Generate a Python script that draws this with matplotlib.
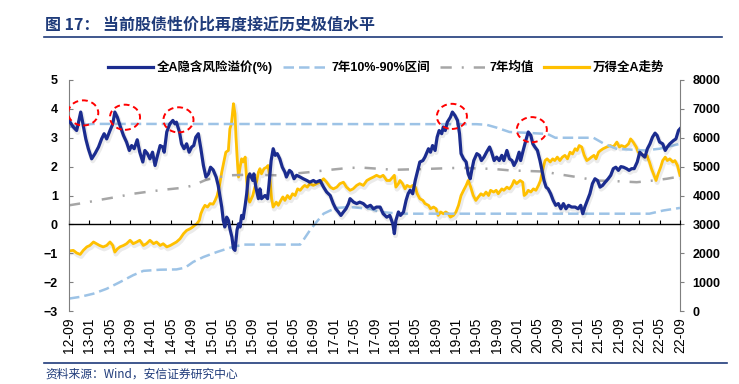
import matplotlib
matplotlib.use("Agg")
import matplotlib.pyplot as plt
import matplotlib.patheffects as pe
from matplotlib.patches import Ellipse
from matplotlib.lines import Line2D
import numpy as np

plt.rcParams['font.family'] = ['Liberation Sans', 'Noto Sans CJK SC', 'DejaVu Sans']

# x = months since 2012-09
tick_labels = ["12-09", "13-01", "13-05", "13-09", "14-01", "14-05", "14-09", "15-01",
               "15-05", "15-09", "16-01", "16-05", "16-09", "17-01", "17-05", "17-09",
               "18-01", "18-05", "18-09", "19-01", "19-05", "19-09", "20-01", "20-05",
               "20-09", "21-01", "21-05", "21-09", "22-01", "22-05", "22-09"]

# 全A隐含风险溢价(%)
erp_m = [0, 0.85, 1.5, 1.8, 2.3, 2.8, 3.3, 3.8, 4.45, 5.1, 5.8, 6.4, 6.9, 7.4, 8.05, 8.6,
         9.0, 9.5, 10.0, 10.7, 11.3, 11.85, 12.3, 12.8, 13.4, 13.9, 14.5, 14.9, 15.4, 15.9,
         16.4, 16.9, 17.3, 17.9, 18.4, 18.7, 19.2, 19.8, 20.4, 20.8, 21.1, 21.7, 22.1, 22.6,
         23.1, 23.6, 24.1, 24.5, 24.9, 25.4, 25.9, 26.4, 26.9, 27.4, 27.8, 28.3, 28.9, 29.3,
         30.0, 30.3, 30.6, 30.97, 31.3, 31.6, 32.0, 32.3, 32.6, 33.0, 33.3, 33.6, 33.9, 34.2,
         34.6, 34.9, 35.2, 35.5, 36.1, 36.3, 36.7, 37.2, 37.5, 37.8, 38.5, 39.0, 39.3, 39.7,
         40.1, 40.5, 40.9, 41.4, 41.9, 42.4, 42.7, 43.3, 43.7, 44.2, 44.7, 45.4, 46.0, 46.7,
         47.3, 48.0, 48.5, 49.3, 50.0, 50.6, 51.3, 51.9, 52.4, 52.9, 53.4, 53.9, 54.4, 54.9,
         55.2, 55.9, 56.5, 57.1, 57.8, 58.5, 59.2, 59.8, 60.4, 61.1, 61.7, 62.4, 63.0, 63.6,
         63.9, 64.2, 64.7, 65.1, 65.7, 66.2, 66.6, 67.0, 67.5, 68.0, 68.4, 68.9, 69.5, 69.9,
         70.6, 71.0, 71.4, 71.9, 72.3, 72.7, 73.2, 73.5, 73.9, 74.3, 74.9, 75.3, 75.8, 76.3,
         76.7, 77.0, 77.5, 78.0, 78.4, 78.8, 79.1, 79.5, 80.1, 80.6, 81.0, 81.5, 82.0, 82.6,
         83.0, 83.5, 84.0, 84.5, 85.0, 85.4, 86.0, 86.5, 87.0, 87.4, 87.9, 88.4, 88.7, 89.2,
         89.8, 90.2, 90.7, 91.1, 91.5, 92.0, 92.5, 92.9, 93.3, 93.7, 94.1, 94.6, 95.1, 95.6,
         96.1, 96.6, 97.1, 97.6, 98.1, 98.7, 99.4, 100.0, 100.5, 100.9, 101.3, 101.8, 102.3,
         102.8, 103.3, 103.8, 104.3, 104.8, 105.3, 105.9, 106.4, 106.9, 107.4, 107.9, 108.4,
         108.9, 109.5, 110.0, 110.5, 111.0, 111.6, 112.1, 112.7, 113.1, 113.6, 114.1, 114.6,
         115.1, 115.5, 116.0, 116.6, 117.1, 117.5, 118.0, 118.7, 119.2, 119.7, 120.0]
erp_v = [3.6, 3.37, 3.25, 3.48, 3.89, 3.43, 2.96, 2.62, 2.27, 2.45, 2.68, 2.96, 3.14, 2.96, 3.25, 3.48,
         3.89, 3.71, 3.43, 3.08, 2.85, 2.56, 2.73, 2.62, 2.93, 2.5, 2.16, 2.56, 2.45, 2.27,
         2.5, 2.04, 2.33, 2.73, 2.68, 2.5, 3.2, 3.48, 3.6, 3.48, 3.54, 3.2, 2.79, 2.62,
         2.79, 2.5, 2.68, 2.73, 3.02, 3.14, 2.62, 2.04, 1.64, 1.75, 1.98, 1.89, 1.64, 1.35,
         0.6, 0.14, -0.09, 0.25, 0.14, -0.15, -0.44, -0.84, -0.9, -0.2, 0.02, -0.09, 0.31, 0.2,
         0.66, 1.06, 1.64, 1.75, 1.52, 1.75, 1.29, 0.89, 1.23, 0.89, 1.0, 0.89, 1.41, 2.21,
         2.62, 2.39, 2.45, 2.27, 1.98, 1.81, 1.64, 1.87, 1.81, 1.58, 1.70, 1.64, 1.58, 1.52,
         1.46, 1.52, 1.46, 1.52, 1.29, 1.12, 1.0, 0.72, 0.54, 0.43, 0.31, 0.43, 0.54, 0.72,
         0.89, 0.77, 0.72, 0.77, 0.72, 0.6, 0.66, 0.54, 0.6, 0.6, 0.37, 0.25, 0.31, 0.02,
         -0.32, 0.14, 0.43, 0.31, 0.43, 0.83, 1.06, 1.18, 1.06, 1.52, 1.81, 2.16, 2.21, 2.33,
         2.62, 2.5, 2.73, 2.56, 3.02, 3.25, 3.14, 3.37, 3.25, 3.54, 3.71, 3.89, 3.77, 3.6,
         3.14, 2.45, 2.27, 2.16, 1.75, 1.58, 1.87, 2.21, 2.45, 2.39, 2.21, 2.33, 2.5, 2.68,
         2.5, 2.21, 2.33, 2.21, 2.39, 2.21, 2.56, 2.27, 2.21, 2.04, 2.21, 2.5, 2.21, 2.56,
         2.96, 3.2, 3.08, 2.79, 2.68, 2.56, 2.21, 1.87, 1.52, 1.29, 1.23, 1.06, 0.83, 0.66,
         0.72, 0.54, 0.72, 0.54, 0.66, 0.6, 0.6, 0.54, 0.66, 0.37, 0.6, 0.83, 1.06,
         1.41, 1.58, 1.52, 1.29, 1.35, 1.46, 1.58, 1.7, 1.93, 1.98, 1.87, 2.0,
         1.98, 1.93, 1.87, 1.93, 1.93, 2.16, 2.5, 2.39, 2.33, 2.62, 2.79, 3.02,
         3.16, 3.08, 2.85, 2.79, 2.56, 2.68, 2.79, 2.9, 2.96, 3.25, 3.31]

# 万得全A走势 (right axis)
wind_m = [0, 0.85, 1.5, 2.2, 2.8, 3.5, 4.1, 4.8, 5.4, 6.0, 6.7, 7.4, 8.05, 8.6, 9.0, 9.5,
          10.0, 10.7, 11.3, 12.0, 12.6, 13.3, 13.9, 14.6, 15.2, 15.9, 16.6, 17.2, 17.9, 18.5,
          19.2, 19.9, 20.5, 21.1, 21.8, 22.5, 23.1, 23.8, 24.3, 24.7, 25.1, 25.6, 25.9, 26.3,
          26.7, 27.2, 27.7, 28.3, 28.7, 29.1, 29.5, 30.0, 30.4, 30.8, 31.3, 31.6, 31.9, 32.3,
          32.6, 32.8, 33.1, 33.3, 33.6, 33.9, 34.2, 34.6, 34.9, 35.2, 35.5, 36.1, 36.5, 36.9,
          37.2, 37.5, 37.8, 38.3, 38.8, 39.1, 39.5, 39.8, 40.1, 40.7, 41.1, 41.6, 42.0, 42.4,
          42.9, 43.4, 43.9, 44.4, 44.9, 45.4, 45.9, 46.3, 46.8, 47.3, 48.0, 48.6, 49.3, 50.0,
          50.6, 51.3, 51.9, 52.6, 53.2, 53.9, 54.5, 55.2, 55.8, 56.5, 57.1, 57.8, 58.5, 59.1,
          59.8, 60.4, 61.1, 61.7, 62.4, 63.0, 63.6, 63.9, 64.2, 64.7, 65.0, 65.5, 66.0, 66.4,
          67.0, 67.5, 68.0, 68.4, 68.9, 69.5, 69.9, 70.6, 71.0, 71.6, 72.1, 72.5, 73.0, 73.5,
          74.0, 74.5, 74.9, 75.5, 76.0, 76.5, 77.0, 77.5, 78.0, 78.4, 78.9, 79.4, 79.9, 80.4,
          80.9, 81.4, 81.9, 82.4, 82.8, 83.4, 83.9, 84.3, 85.0, 85.4, 86.0, 86.5, 87.0, 87.4,
          87.9, 88.6, 89.1, 89.4, 89.8, 90.2, 90.7, 91.2, 91.7, 92.2, 92.6, 93.0, 93.5, 93.9,
          94.5, 95.0, 95.4, 95.9, 96.4, 96.9, 97.4, 97.9, 98.4, 98.9, 99.4, 99.8, 100.2, 100.7,
          101.2, 101.7, 102.2, 102.6, 103.1, 103.5, 104.0, 104.4, 104.9, 105.6, 106.3, 106.9,
          107.6, 108.1, 108.5, 109.2, 109.9, 110.3, 110.8, 111.4, 111.8, 112.5, 113.0, 113.5,
          114.0, 114.4, 114.9, 115.3, 115.7, 116.2, 116.6, 117.1, 117.5, 118.0, 118.6, 119.0,
          119.5, 120.0]
wind_v = [2080, 2100, 2010, 1960, 2100, 2220, 2270, 2390, 2330, 2270, 2220, 2270, 2390, 2270, 2040, 2150,
          2220, 2270, 2330, 2450, 2330, 2390, 2450, 2270, 2330, 2450, 2330, 2390, 2270, 2330,
          2220, 2270, 2330, 2390, 2500, 2680, 2790, 2850, 2910, 2970, 3020, 3140, 3370, 3540,
          3660, 3600, 3720, 3700, 3830, 4000, 4290, 4810, 5160, 5500, 5560, 6310, 6480, 7180,
          6830, 6020, 5100, 4640, 4980, 5270, 5160, 5330, 4520, 3890, 3770, 4000, 4290, 4520,
          4810, 4930, 4750, 4930, 4980, 5040, 4520, 3890, 3600, 3770, 3660, 3830, 3950, 3830,
          4000, 3890, 4060, 4000, 4230, 4180, 4290, 4350, 4290, 4410, 4350, 4410, 4460, 4580,
          4460, 4290, 4230, 4290, 4410, 4460, 4290, 4180, 4230, 4350, 4410, 4350, 4520, 4580,
          4640, 4700, 4640, 4700, 4520, 4520, 4640, 4700, 4290, 4410, 4520, 4410, 4230, 4350,
          4290, 4350, 4290, 4060, 3890, 3830, 3720, 3660, 3540, 3600, 3540, 3310, 3430, 3370,
          3430, 3370, 3250, 3310, 3430, 3660, 4000, 4180, 4350, 4520, 4290, 4000, 3830, 3950,
          4060, 4000, 4120, 4000, 4180, 4120, 4180, 4060, 4230, 4180, 4290, 4230, 4350, 4520,
          4410, 4520, 4460, 4000, 4060, 4180, 4120, 4230, 4180, 4350, 4520, 4870, 5210, 5270,
          5160, 5270, 5210, 5330, 5210, 5330, 5390, 5270, 5500, 5440, 5620, 5560, 5730, 5680,
          5390, 5210, 5270, 5330, 5390, 5270, 5500, 5560, 5620, 5680, 5730, 5680,
          5850, 5680, 5730, 5680, 5790, 5960, 5850, 5680, 5500, 5440, 5330, 5390,
          5160, 4930, 4700, 4520, 4750, 4980, 5210, 5330, 5210, 5270, 5160, 5210,
          5040, 4700]

# 7年10%-90%区间
upper_m = [0, 1.5, 4.8, 80, 82, 84, 86.5, 90, 94, 95.5, 103, 105, 107.5, 113, 116, 120]
upper_v = [3.37, 3.43, 3.48, 3.47, 3.45, 3.35, 3.2, 3.17, 3.13, 3.0, 3.0, 2.8, 2.62, 2.56, 2.62, 2.79]
lower_m = [0, 2.2, 4.8, 7.4, 10, 12.6, 14.6, 17.9, 21.1, 22.8, 24.4, 26.4, 29, 31.6, 34.2, 45.4,
           46, 47.3, 48.6, 50, 51.3, 52.6, 55.2, 59.1, 61.1, 65, 114, 116.7, 120]
lower_v = [-2.57, -2.51, -2.4, -2.23, -2.0, -1.76, -1.61, -1.57, -1.56, -1.5, -1.3, -1.13, -0.96, -0.81, -0.7, -0.7,
           -0.55, -0.21, 0.08, 0.37, 0.48, 0.57, 0.6, 0.54, 0.43, 0.37, 0.37, 0.48, 0.57]

# 7年均值
mean_m = [0, 2.8, 6.1, 9.4, 12.6, 15.9, 19.2, 22.5, 24.4, 27, 29.5, 31.6, 35.5, 40.8, 47.3, 51.3,
          55.2, 58, 63.7, 70.2, 76.8, 83.3, 86.6, 93.2, 96.4, 99.7, 103.6, 108.2, 111.5, 114.8, 117.4, 120]
mean_v = [0.66, 0.74, 0.85, 0.95, 1.06, 1.14, 1.21, 1.27, 1.35, 1.55, 1.64, 1.7, 1.72, 1.7, 1.81, 1.89,
          1.96, 1.96, 1.89, 1.92, 1.96, 1.92, 1.87, 1.83, 1.73, 1.64, 1.52, 1.49, 1.46, 1.52, 1.58, 1.66]

# red dashed circles around the extreme highs (month, value)
marks_m = [2.8, 11.0, 21.5, 75.2, 90.9]
marks_v = [3.86, 3.71, 3.62, 3.74, 3.28]

navy = "#1B2C8F"
gold = "#FFC000"
lblue = "#9DC3E6"
grey = "#A6A6A6"
title_c = "#1F3B7A"

fig = plt.figure(figsize=(7.39, 3.84), dpi=100)
ax = fig.add_axes([69/739, 1-311/384, 611/739, 231/384])
ax2 = ax.twinx()

shadow = [pe.SimpleLineShadow(offset=(0.8, -1.5), shadow_color="#000000", alpha=0.08, linewidth=3.5), pe.Normal()]

ax.plot(upper_m, upper_v, color=lblue, lw=1.8, dashes=(4.2, 2.0), zorder=2)
ax.plot(lower_m, lower_v, color=lblue, lw=1.8, dashes=(4.2, 2.0), zorder=2)
ax.plot(mean_m, mean_v, color=grey, lw=1.8, dashes=(4.5, 4, 0.8, 4), zorder=2)
ax2.plot(wind_m, wind_v, color=gold, lw=2.0, path_effects=shadow, zorder=3)
ax.plot(erp_m, erp_v, color=navy, lw=2.3, path_effects=shadow, zorder=4)

for mx, my in zip(marks_m, marks_v):
    ax.add_patch(Ellipse((mx, my), 5.9, 0.87, fill=False, ec="#FF0000", lw=1.4,
                         ls=(0, (3, 2)), zorder=6))

ax.set_zorder(ax2.get_zorder() + 1)
ax.patch.set_visible(False)

ax.set_xlim(0, 120)
ax.set_ylim(-3, 5)
ax2.set_ylim(0, 8000)
ax.set_yticks(range(-3, 6))
ax2.set_yticks(range(0, 8001, 1000))
ax.set_xticks(range(0, 121, 4))
ax.set_xticklabels(tick_labels, fontsize=8.5, fontweight="bold")

for a in (ax, ax2):
    a.spines["top"].set_visible(False)
    a.spines["left"].set_color("#7F7F7F")
    a.spines["right"].set_color("#7F7F7F")
ax.spines["right"].set_visible(False)
ax2.spines["left"].set_visible(False)
ax2.spines["bottom"].set_visible(False)
ax.spines["bottom"].set_position(("data", 0))
ax.spines["bottom"].set_color("black")
ax.spines["bottom"].set_linewidth(1.0)

ax.tick_params(axis="x", direction="in", length=3, pad=67, width=0.8, labelrotation=90)
ax.tick_params(axis="y", direction="in", length=3, pad=8, colors="#7F7F7F", labelcolor="black")
ax2.tick_params(axis="y", direction="out", length=3, pad=6, colors="#7F7F7F", labelcolor="black")
for lab in ax.get_yticklabels() + ax2.get_yticklabels():
    lab.set_fontweight("bold")
    lab.set_fontsize(9)

handles = [
    Line2D([], [], color=navy, lw=2.3),
    Line2D([], [], color=lblue, lw=1.8, dashes=(4.2, 2.0)),
    Line2D([], [], color=grey, lw=1.8, dashes=(4.5, 4, 0.8, 4)),
    Line2D([], [], color=gold, lw=2.3),
]
labels = ["全A隐含风险溢价(%)", "7年10%-90%区间", "7年均值", "万得全A走势"]
fig.legend(handles, labels, loc="center", bbox_to_anchor=(386/739, 1-67/384), ncol=4,
           frameon=False, handlelength=3.6, handletextpad=0.3, columnspacing=0.8,
           prop={"weight": "bold", "size": 9})

fig.text(45/739, 1-25/384, "图 17： 当前股债性价比再度接近历史极值水平", fontsize=11.5,
         fontweight="bold", color=title_c, va="center", ha="left",
         family=["Noto Sans CJK SC", "DejaVu Sans"])
fig.add_artist(Line2D([44/739, 722/739], [1-37/384, 1-37/384], color=title_c, lw=1.2))
fig.add_artist(Line2D([44/739, 727/739], [1-363/384, 1-363/384], color=title_c, lw=1.2))
fig.text(45/739, 1-374/384, "资料来源：Wind，安信证券研究中心", fontsize=8.5,
         color=title_c, va="center", ha="left", style="italic",
         family=["Noto Sans CJK SC", "DejaVu Sans"])

fig.savefig("out.png", dpi=100)
